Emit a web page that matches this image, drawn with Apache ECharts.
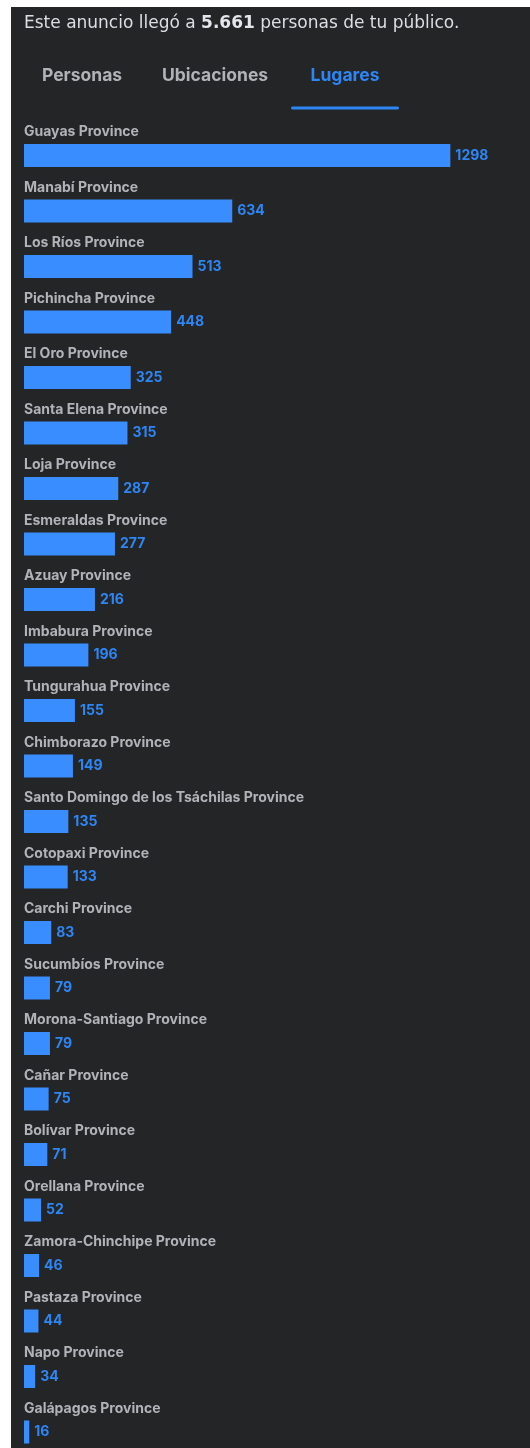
<!DOCTYPE html>
<html>
<head>
<meta charset="utf-8">
<script src="https://cdn.jsdelivr.net/npm/echarts@6/dist/echarts.min.js"></script>
<style>
  html, body { margin: 0; padding: 0; background: #ffffff; }
  #wrap { width: 530px; height: 1448px; overflow: hidden; }
  #chart { width: 530px; height: 1480px; }
</style>
</head>
<body>
<div id="wrap"><div id="chart"></div></div>
<script>
// 数据
const provinces = [
  'Guayas Province', 'Manabí Province', 'Los Ríos Province', 'Pichincha Province',
  'El Oro Province', 'Santa Elena Province', 'Loja Province', 'Esmeraldas Province',
  'Azuay Province', 'Imbabura Province', 'Tungurahua Province', 'Chimborazo Province',
  'Santo Domingo de los Tsáchilas Province', 'Cotopaxi Province', 'Carchi Province',
  'Sucumbíos Province', 'Morona-Santiago Province', 'Cañar Province', 'Bolívar Province',
  'Orellana Province', 'Zamora-Chinchipe Province', 'Pastaza Province', 'Napo Province',
  'Galápagos Province'
];
const reach = [1298, 634, 513, 448, 325, 315, 287, 277, 216, 196, 155, 149, 135, 133, 83, 79, 79, 75, 71, 52, 46, 44, 34, 16];
const tabs = ['Personas', 'Ubicaciones', 'Lugares'];
const totalReach = '5.661';

const panelColor = '#242527';
const barColor = '#3a8dff';
const labelBlue = '#2e86f5';
const greyText = '#b0b3b8';
const font = 'Inter, "Noto Sans", sans-serif';

const rowPitch = 55.5;
const chart = echarts.init(document.getElementById('chart'));

const option = {
  backgroundColor: '#ffffff',
  animation: false,
  graphic: [
    {
      type: 'rect', z: -10, silent: true,
      shape: { x: 11, y: 7, width: 519, height: 1473 },
      style: { fill: panelColor }
    },
    {
      type: 'text', x: 24, y: 24,
      style: {
        text: '{a|Este anuncio llegó a }{b|' + totalReach + '}{a| personas de tu público.}',
        verticalAlign: 'middle',
        rich: {
          a: { fontSize: 17, fontFamily: '"DejaVu Sans"', fill: '#dcdee3' },
          b: { fontSize: 17, fontFamily: '"DejaVu Sans"', fontWeight: 'bold', fill: '#e4e6eb' }
        }
      }
    },
    {
      type: 'text', x: 42, y: 76,
      style: { text: tabs[0], font: 'bold 17.5px ' + font, fill: greyText, verticalAlign: 'middle' }
    },
    {
      type: 'text', x: 162, y: 76,
      style: { text: tabs[1], font: 'bold 17.5px ' + font, fill: greyText, verticalAlign: 'middle' }
    },
    {
      type: 'text', x: 345, y: 76,
      style: { text: tabs[2], font: 'bold 17.5px ' + font, fill: labelBlue, align: 'center', verticalAlign: 'middle' }
    },
    {
      type: 'rect',
      shape: { x: 291, y: 106.5, width: 108, height: 3, r: 1.5 },
      style: { fill: labelBlue }
    }
  ],
  grid: {
    left: 24,
    top: 155.5 - rowPitch / 2,
    width: 427,
    height: rowPitch * provinces.length
  },
  xAxis: {
    type: 'value',
    min: 0,
    max: 1300,
    show: false,
    splitLine: { show: false }
  },
  yAxis: {
    type: 'category',
    inverse: true,
    data: provinces,
    axisLine: { show: false },
    axisTick: { show: false },
    axisLabel: { show: false }
  },
  series: [
    {
      type: 'bar',
      data: reach,
      barWidth: 23,
      itemStyle: { color: barColor },
      label: {
        show: true,
        position: 'right',
        distance: 5,
        color: labelBlue,
        fontFamily: font,
        fontWeight: 'bold',
        fontSize: 14
      }
    },
    {
      // 省份名称标签（透明柱，叠在同一位置）
      type: 'bar',
      data: reach,
      barWidth: 23,
      barGap: '-100%',
      silent: true,
      itemStyle: { color: 'transparent' },
      label: {
        show: true,
        position: [0, -12],
        verticalAlign: 'middle',
        align: 'left',
        formatter: (p) => p.name,
        color: greyText,
        fontFamily: font,
        fontWeight: 'bold',
        fontSize: 14
      }
    }
  ]
};

chart.setOption(option);
</script>
</body>
</html>
